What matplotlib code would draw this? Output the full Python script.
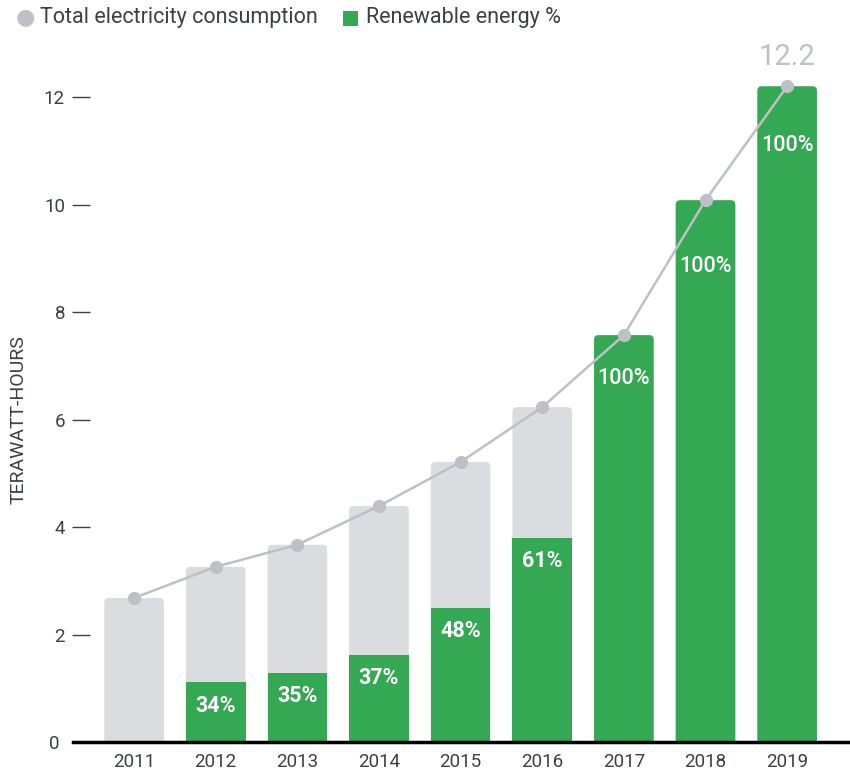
import matplotlib
matplotlib.use("Agg")
import matplotlib.pyplot as plt
from matplotlib.patches import FancyBboxPatch
from matplotlib.lines import Line2D
import numpy as np

years = ["2011", "2012", "2013", "2014", "2015", "2016", "2017", "2018", "2019"]
total = [2.68, 3.26, 3.67, 4.39, 5.21, 6.23, 7.57, 10.08, 12.2]
renew_pct = [None, 34, 35, 37, 48, 61, 100, 100, 100]

GRAY_BAR = "#dadce0"
GREEN = "#34a853"
LINE = "#bdc1c6"
TEXT = "#3c4043"

plt.rcParams['font.family'] = ['Roboto', 'DejaVu Sans']

fig = plt.figure(figsize=(8.5, 7.73), dpi=100)
ax_left = 90 / 850
ax = fig.add_axes([ax_left, 0.0401, 1 - ax_left, 0.890])
ax.set_xlim(-0.54, 8.77)
ax.set_ylim(0, 12.8)

x = np.arange(len(years))
width = 0.73
ux = (8.77 + 0.54) / ((1 - ax_left) * 850)
uy = 12.8 / (0.890 * 773)
aspect = uy / ux
rs = 0.055

def rbar(xc, h, color, z):
    p = FancyBboxPatch((xc - width / 2, -0.5), width, h + 0.5,
                       boxstyle=f"round,pad=0,rounding_size={rs}",
                       mutation_aspect=aspect, fc=color, ec="none", zorder=z)
    ax.add_patch(p)
    p.set_clip_path(ax.patch)

for i, t in enumerate(total):
    rbar(x[i], t, GRAY_BAR, 1)
    pct = renew_pct[i]
    if pct is None:
        continue
    g = t * pct / 100.0
    if pct >= 100:
        rbar(x[i], g, GREEN, 2)
    else:
        ax.bar(x[i], g, width=width, color=GREEN, zorder=2, linewidth=0)
    y_lab = g - 0.43
    if i > 0:
        xe = x[i] - width / 2
        ye = np.interp(xe, [x[i - 1], x[i]], [total[i - 1], total[i]])
        y_lab = min(y_lab, ye - 0.32)
    ax.text(x[i], y_lab, f"{pct}%", ha="center", va="center", color="white",
            fontsize=15.5,
            fontweight="semibold" if pct < 100 else "medium", zorder=4)

ax.plot(x, total, color=LINE, lw=1.8, marker="o", ms=8.5, zorder=3)
ax.text(x[-1], total[-1] + 0.28, f"{total[-1]}", ha="center", va="bottom",
        color=LINE, fontsize=21, zorder=4)

for s in ["top", "right", "left", "bottom"]:
    ax.spines[s].set_visible(False)
ax.add_line(Line2D([-17 / ((1 - ax_left) * 850), 1], [0, 0], transform=ax.transAxes,
                   color="black", lw=2.5, clip_on=False, zorder=5))

ax.set_yticks([0, 2, 4, 6, 8, 10, 12])
ax.tick_params(axis="y", length=13, width=1, color=TEXT, labelcolor=TEXT,
               labelsize=13.5, pad=5)
ax.set_xticks(x)
ax.set_xticklabels(years)
ax.tick_params(axis="x", length=0, labelcolor=TEXT, labelsize=13.5, pad=8)
ax.yaxis.get_major_ticks()[0].tick1line.set_visible(False)
ax.yaxis.get_major_ticks()[0].set_pad(9)

ax.set_ylabel("TERAWATT-HOURS", color=TEXT, fontsize=14)
ax.yaxis.set_label_coords(28 / 850, 1 - 420 / 773, transform=fig.transFigure)

# legend
fig.text(25 / 850, 1 - 18 / 773, "\u25cf", color=LINE, fontsize=16, ha="center", va="center")
fig.text(40 / 850, 1 - 18 / 773, "Total electricity consumption", color=TEXT,
         fontsize=15.5, ha="left", va="center")
fig.patches.append(plt.Rectangle((343 / 850, 1 - 26 / 773), 15 / 850, 15 / 773,
                                 transform=fig.transFigure, fc=GREEN, ec="none"))
fig.text(366 / 850, 1 - 18 / 773, "Renewable energy %", color=TEXT,
         fontsize=15.5, ha="left", va="center")

fig.savefig("out.png", dpi=100)
